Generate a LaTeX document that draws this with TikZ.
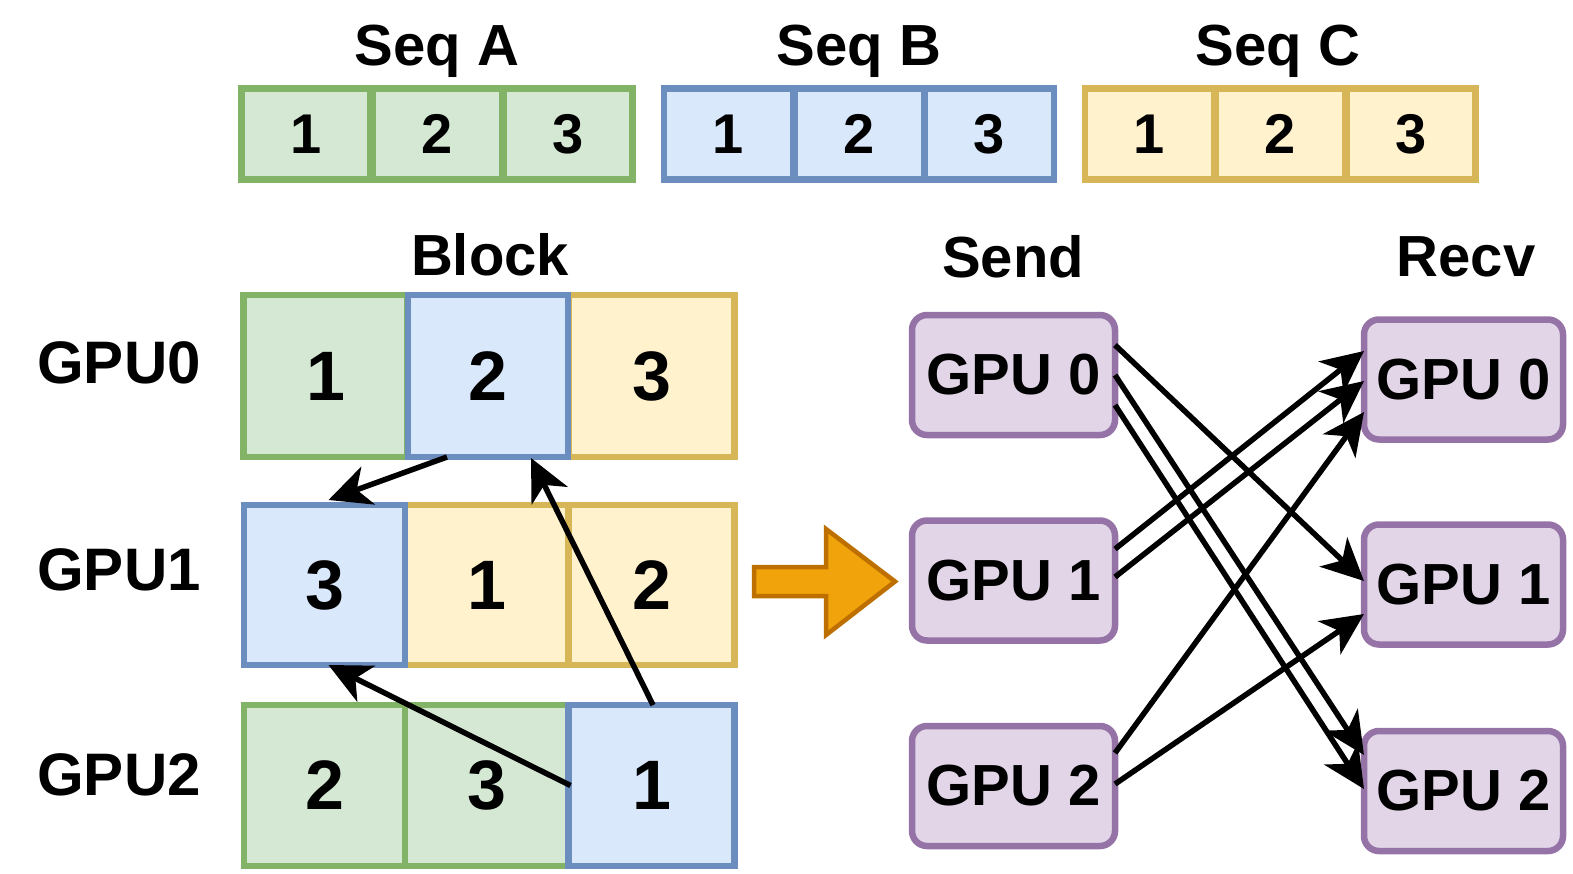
\documentclass[tikz,border=0pt]{standalone}
\usepackage{fontspec}
\setmainfont{Liberation Sans}
\usetikzlibrary{arrows.meta,calc}
\definecolor{grnF}{HTML}{D5E8D4}\definecolor{grnD}{HTML}{82B366}
\definecolor{bluF}{HTML}{DAE8FC}\definecolor{bluD}{HTML}{6C8EBF}
\definecolor{ylwF}{HTML}{FFF2CC}\definecolor{ylwD}{HTML}{D6B656}
\definecolor{purF}{HTML}{E1D5E7}\definecolor{purD}{HTML}{9673A6}
\definecolor{orgF}{HTML}{F0A30A}\definecolor{orgD}{HTML}{BD7000}
\begin{document}
\begin{tikzpicture}[x=1pt,y=-1pt,
  cellbase/.style={rectangle,inner sep=0pt,outer sep=0pt,line width=6.5pt},
  seqcell/.style={cellbase,minimum width=129pt,minimum height=91pt,font=\fontsize{56}{56}\selectfont\bfseries},
  blkcell/.style={cellbase,minimum height=161pt,font=\fontsize{70}{70}\selectfont\bfseries},
  grn/.style={fill=grnF,draw=grnD},
  blu/.style={fill=bluF,draw=bluD},
  ylw/.style={fill=ylwF,draw=ylwD},
  title/.style={font=\fontsize{58}{58}\selectfont\bfseries,inner sep=0pt},
  gpulbl/.style={font=\fontsize{60}{60}\selectfont\bfseries,inner sep=0pt},
  gpubox/.style={rectangle,rounded corners=15pt,fill=purF,draw=purD,line width=6.5pt,
    inner sep=0pt,outer sep=0pt,minimum height=120pt,font=\fontsize{58}{58}\selectfont\bfseries},
  conn/.style={line width=5.5pt,-{Stealth[length=42pt,width=40pt,inset=12pt]}}
]
\useasboundingbox (0,0) rectangle (1573,873);

% sequences
\node[title,anchor=base] (tA) at (437,65) {Seq A};
\node[title,anchor=base] (tB) at (859,65) {Seq B};
\node[title,anchor=base] (tC) at (1278,65) {Seq C};
\foreach \x/\t [count=\i] in {306/1,437.5/2,568/3}
  \node[seqcell,grn] (a\i) at (\x,134) {\t};
\foreach \x/\t [count=\i] in {728.5/1,859.5/2,989.5/3}
  \node[seqcell,blu] (b\i) at (\x,134) {\t};
\foreach \x/\t [count=\i] in {1149.5/1,1280.5/2,1411/3}
  \node[seqcell,ylw] (c\i) at (\x,134) {\t};

% block layout on the GPUs
\node[title] (blk) at (490,255) {Block};
\node[gpulbl] (g0) at (119,363) {GPU0};
\node[gpulbl] (g1) at (119,570) {GPU1};
\node[gpulbl] (g2) at (119,775) {GPU2};

\node[blkcell,grn,minimum width=164pt,minimum height=162pt] (b00) at (325.5,376) {1};
\node[blkcell,ylw,minimum width=166pt,minimum height=162pt] (b02) at (651.5,376) {3};
\node[blkcell,blu,minimum width=160pt,minimum height=162pt] (b01) at (488,376) {2};

\node[blkcell,ylw,minimum width=163pt,minimum height=160pt] (b11) at (486.5,585) {1};
\node[blkcell,ylw,minimum width=166pt,minimum height=160pt] (b12) at (651.5,585) {2};
\node[blkcell,blu,minimum width=161pt,minimum height=160pt] (b10) at (324.5,585) {3};

\node[blkcell,grn,minimum width=161pt] (b20) at (324.5,785.5) {2};
\node[blkcell,grn,minimum width=163pt] (b21) at (486.5,785.5) {3};
\node[blkcell,blu,minimum width=166pt] (b22) at (651.5,785.5) {1};

\draw[conn] ($(b01.south)+(-41,0)$) -- ($(b10.north)+(4,-5)$);
\draw[conn] ($(b22.north)+(1.5,0)$) -- ($(b01.south)+(43,1)$);
\draw[conn] ($(b22.west)+(2,0)$) -- ($(b10.south)+(4,0)$);

% transition arrow
\draw[line width=4.5pt,draw=orgD,fill=orgF,line join=miter]
  (754,567) -- (826,567) -- (826,529) -- (895,581.5) -- (826,635) -- (826,596) -- (754,596) -- cycle;

% send / receive
\node[title] (snd) at (1013,257) {Send};
\node[title] (rcv) at (1466,257) {Recv};
\foreach \y/\t [count=\i from 0] in {375/0,580.5/1,786/2}
  \node[gpubox,minimum width=203pt] (s\i) at (1013.5,\y) {GPU \t};
\foreach \y/\t [count=\i from 0] in {379.5/0,584.5/1,791/2}
  \node[gpubox,minimum width=199pt] (r\i) at (1463.5,\y) {GPU \t};

\draw[conn] ($(s0.east)+(0,-30)$) -- ($(r1.west)+(0,-3.5)$);
\draw[conn] ($(s0.east)+(0,0)$) -- ($(r2.west)+(0,-36)$);
\draw[conn] ($(s0.east)+(0,30)$) -- ($(r2.west)+(0,-2)$);
\draw[conn] ($(s1.east)+(0,-31.5)$) -- ($(r0.west)+(0,-28.5)$);
\draw[conn] ($(s1.east)+(0,-3.5)$) -- ($(r0.west)+(0,1.5)$);
\draw[conn] ($(s2.east)+(0,-33)$) -- ($(r0.west)+(0,32.5)$);
\draw[conn] ($(s2.east)+(0,-2)$) -- ($(r1.west)+(0,29.5)$);
\end{tikzpicture}
\end{document}
